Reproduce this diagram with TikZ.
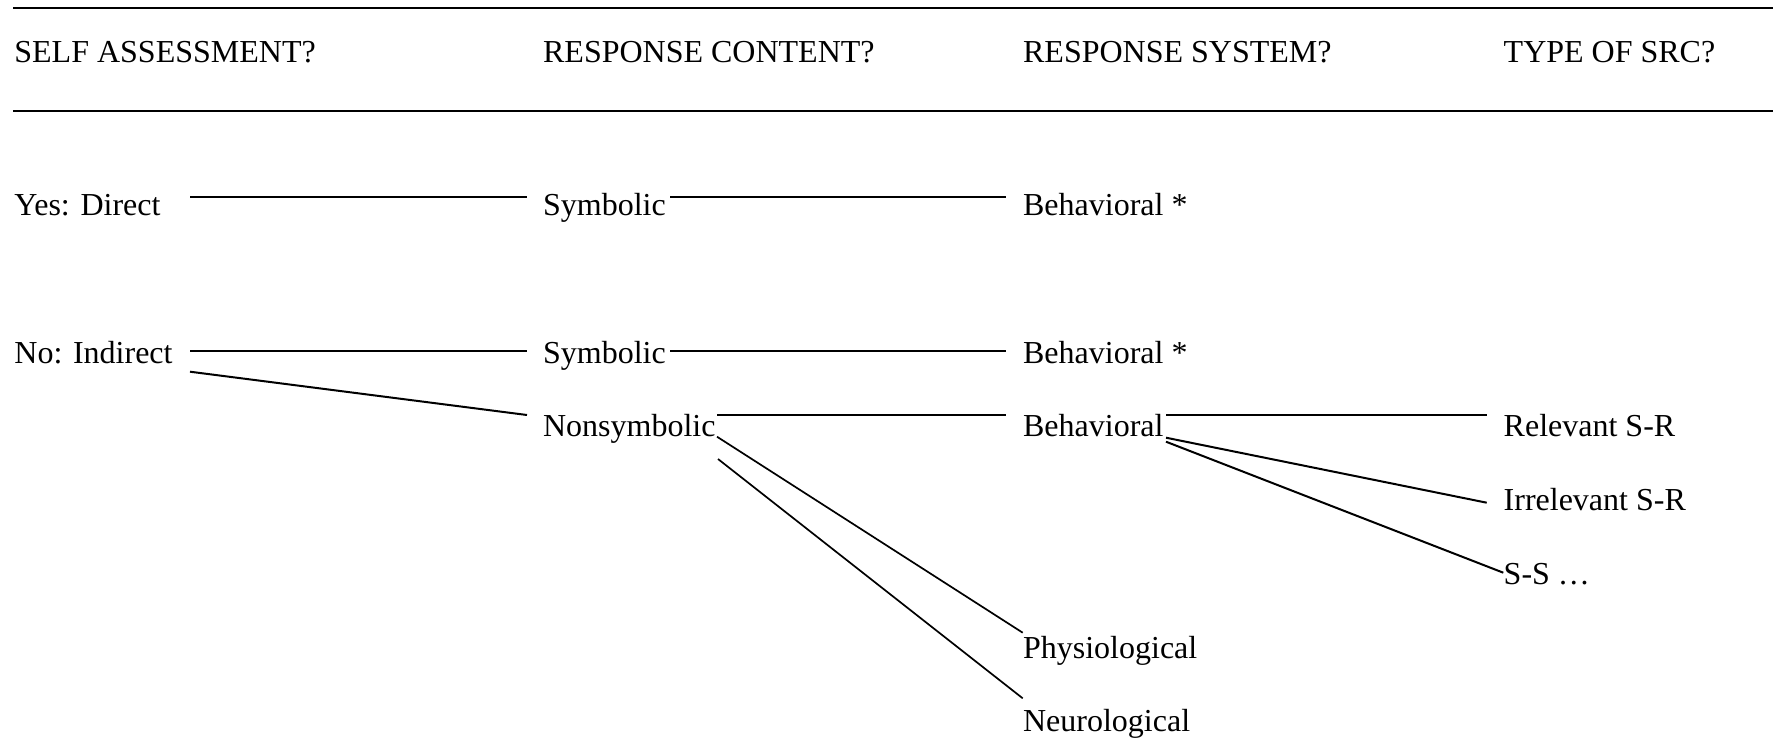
\documentclass[tikz,border=0pt]{standalone}
\usepackage{fontspec}
\setmainfont{Liberation Serif}
\begin{document}
\begin{tikzpicture}[x=0.5pt,y=-0.5pt,
  lbl/.style={anchor=base west,inner sep=0pt,font=\fontsize{16}{19}\selectfont},
  link/.style={line width=1pt},
  diag/.style={line width=0.85pt},
  rule/.style={line width=1.1pt}]
\useasboundingbox (0,0) rectangle (1773,739);
% header
\node[lbl] (h1) at (14,62) {SELF ASSESSMENT?};
\node[lbl] (h2) at (542.7,62) {RESPONSE CONTENT?};
\node[lbl] (h3) at (1022.7,62) {RESPONSE SYSTEM?};
\node[lbl] (h4) at (1503.3,62) {TYPE OF SRC?};
\coordinate (ta) at (13,8);   \coordinate (tb) at (1773,8);
\coordinate (ba) at (13,111); \coordinate (bb) at (1773,111);
\draw[rule] (ta) -- (tb);
\draw[rule] (ba) -- (bb);
% nodes
\node[lbl] (yes) at (14,215) {Yes: Direct};
\node[lbl] (sym1) at (542.7,215) {Symbolic};
\node[lbl] (beh1) at (1022.7,215) {Behavioral *};
\node[lbl] (no) at (14,363) {No: Indirect};
\node[lbl] (sym2) at (542.7,363) {Symbolic};
\node[lbl] (beh2) at (1022.7,363) {Behavioral *};
\node[lbl] (nonsym) at (542.7,436) {Nonsymbolic};
\node[lbl] (beh3) at (1022.7,436) {Behavioral};
\node[lbl] (rel) at (1503.3,436) {Relevant S-R};
\node[lbl] (irr) at (1503.3,510) {Irrelevant S-R};
\node[lbl] (ss) at (1503.3,584.3) {S-S \dots};
\node[lbl] (phys) at (1022.7,658) {Physiological};
\node[lbl] (neuro) at (1022.7,731.5) {Neurological};
% connector end points
\coordinate (yesR) at (190,197.3);   \coordinate (sym1L) at (526.7,197.3);
\coordinate (sym1R) at (670,197.3);  \coordinate (beh1L) at (1006,197.3);
\coordinate (noR) at (190,350.7);    \coordinate (sym2L) at (526.7,350.7);
\coordinate (noR2) at (190,371.7);   \coordinate (nonsymL) at (527,415);
\coordinate (sym2R) at (670,350.7);  \coordinate (beh2L) at (1006,350.7);
\coordinate (nonsymR) at (717,415);  \coordinate (beh3L) at (1006,415);
\coordinate (nonsymR2) at (717,436.7); \coordinate (physL) at (1022.7,632.7);
\coordinate (nonsymR3) at (718,459);   \coordinate (neuroL) at (1022.7,698.3);
\coordinate (beh3R) at (1166,415);   \coordinate (relL) at (1486.7,415);
\coordinate (beh3R2) at (1166,437.7); \coordinate (irrL) at (1486.7,502.7);
\coordinate (beh3R3) at (1166,441.7); \coordinate (ssL) at (1503.3,572.7);
% connectors
\draw[link] (yesR) -- (sym1L);
\draw[link] (sym1R) -- (beh1L);
\draw[link] (noR) -- (sym2L);
\draw[link] (noR2) -- (nonsymL);
\draw[link] (sym2R) -- (beh2L);
\draw[link] (nonsymR) -- (beh3L);
\draw[diag] (nonsymR2) -- (physL);
\draw[diag] (nonsymR3) -- (neuroL);
\draw[link] (beh3R) -- (relL);
\draw[link] (beh3R2) -- (irrL);
\draw[link] (beh3R3) -- (ssL);
\end{tikzpicture}
\end{document}
